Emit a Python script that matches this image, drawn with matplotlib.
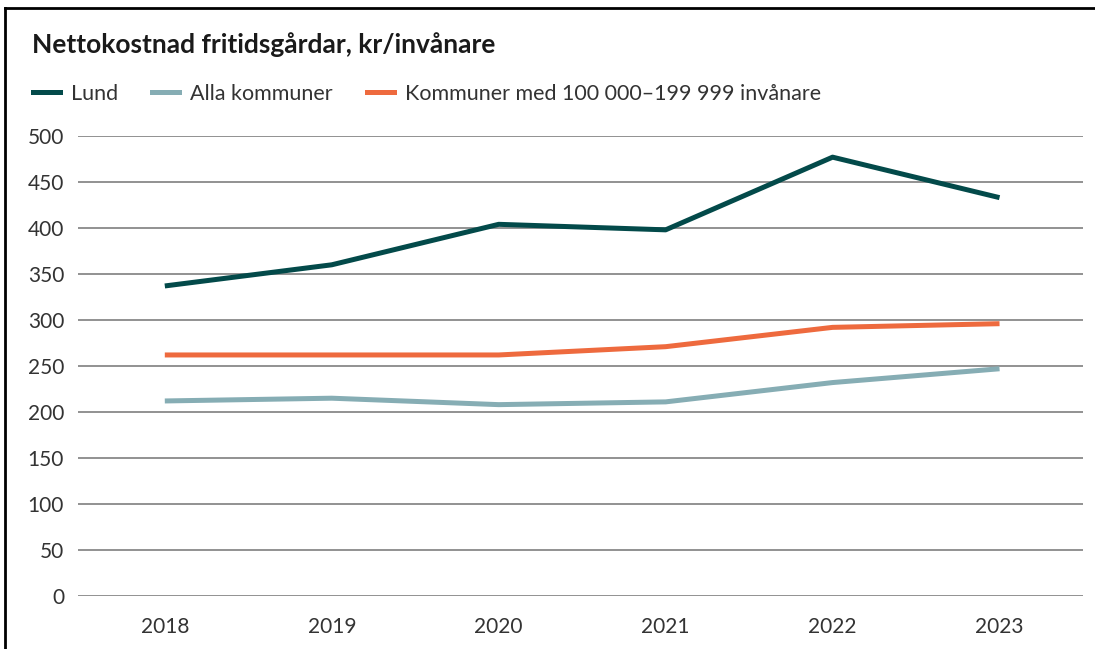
import numpy as np
import matplotlib
matplotlib.use('Agg')
import matplotlib.pyplot as plt
from matplotlib.lines import Line2D

plt.rcParams['font.family'] = ['Lato', 'DejaVu Sans']

# data
years = ['2018', '2019', '2020', '2021', '2022', '2023']
lund = [337, 360, 404, 398, 477, 433]
alla = [212, 215, 208, 211, 232, 247]
komm = [262, 262, 262, 271, 292, 296]
series_names = ['Lund', 'Alla kommuner', 'Kommuner med 100 000\u2013199 999 invånare']
series_colors = ['#034a4a', '#86adb4', '#ee6a3e']
yticks = [0, 50, 100, 150, 200, 250, 300, 350, 400, 450, 500]

fig = plt.figure(figsize=(10.95, 6.49), dpi=100)
ax = fig.add_axes([78 / 1095, 53 / 649, (1083 - 78) / 1095, (596 - 136) / 649])

x = np.arange(len(years))
for vals, c in zip([lund, alla, komm], series_colors):
    ax.plot(x, vals, color=c, lw=3.6, solid_capstyle='butt', zorder=3)

ax.set_ylim(0, 500)
ax.set_xlim(-0.52, 5.5)
ax.set_yticks(yticks)
ax.set_xticks(x)
ax.set_xticklabels(years)
ax.grid(axis='y', color='#7f7f7f', lw=1.2, zorder=1)
ax.set_axisbelow(True)
for s in ax.spines.values():
    s.set_visible(False)
ax.tick_params(axis='both', length=0, labelsize=15, colors='#333333')
ax.tick_params(axis='y', pad=10)
ax.tick_params(axis='x', pad=15)

# title and legend
fig.text(32 / 1095, 1 - 45 / 649, 'Nettokostnad fritidsgårdar, kr/invånare',
         fontsize=19, fontweight='bold', color='#1a1a1a', va='center', ha='left')
handles = [Line2D([], [], color=c, lw=3.6) for c in series_colors]
fig.legend(handles, series_names, loc='center left', bbox_to_anchor=(16 / 1095, 1 - 94 / 649),
           ncol=3, frameon=False, fontsize=15.5, handlelength=1.25, handletextpad=0.5,
           columnspacing=1.6, labelcolor='#333333', borderpad=0.3)

# outer frame (left and top)
fig.add_artist(Line2D([5 / 1095, 5 / 1095], [0, 1 - 8 / 649], color='black', lw=2,
                      transform=fig.transFigure))
fig.add_artist(Line2D([5 / 1095, 1], [1 - 8 / 649, 1 - 8 / 649], color='black', lw=2,
                      transform=fig.transFigure))

fig.savefig('out.png', dpi=100)
